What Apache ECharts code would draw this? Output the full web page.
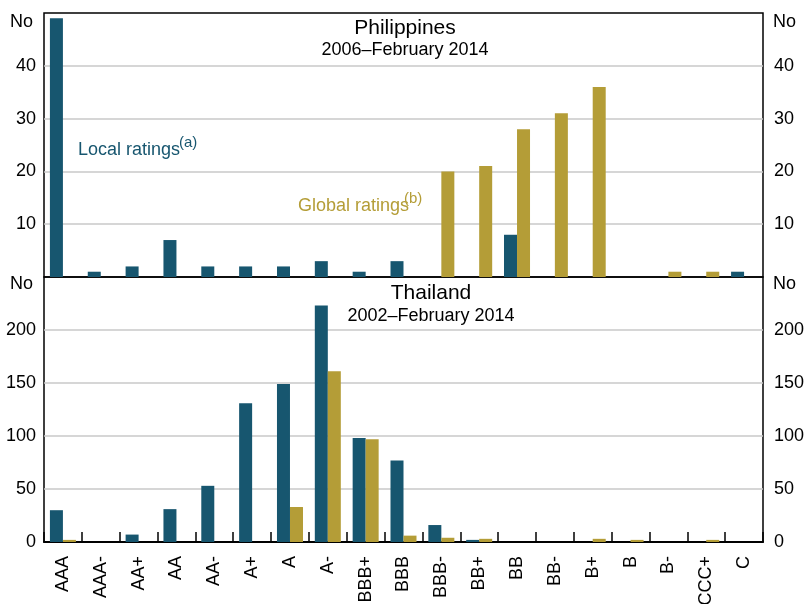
<!DOCTYPE html>
<html>
<head>
<meta charset="utf-8">
<script src="https://cdn.jsdelivr.net/npm/echarts@6/dist/echarts.min.js"></script>
<style>
  html, body { margin: 0; padding: 0; background: #fff; }
  #main { width: 806px; height: 604px; }
</style>
</head>
<body>
<div id="main"></div>
<script>
// rating categories
const categories = ['AAA', 'AAA-', 'AA+', 'AA', 'AA-', 'A+', 'A', 'A-', 'BBB+', 'BBB',
  'BBB-', 'BB+', 'BB', 'BB-', 'B+', 'B', 'B-', 'CCC+', 'C'];

// Philippines, 2006–Feb 2014
const phLocal = [49, 1, 2, 7, 2, 2, 2, 3, 1, 3, 0, 0, 8, 0, 0, 0, 0, 0, 1];
const phGlobal = [0, 0, 0, 0, 0, 0, 0, 0, 0, 0, 20, 21, 28, 31, 36, 0, 1, 1, 0];

// Thailand, 2002–Feb 2014
const thLocal = [30, 0, 7, 31, 53, 131, 149, 223, 98, 77, 16, 2, 0, 0, 0, 0, 0, 0, 0];
const thGlobal = [2, 0, 0, 0, 0, 0, 33, 161, 97, 6, 4, 3, 0, 0, 3, 2, 0, 2, 0];

// axis ranges
const phTicks = [0, 10, 20, 30, 40, 50];
const thTicks = [0, 50, 100, 150, 200, 250];

const LOCAL = '#17566f';
const GLOBAL = '#b49d37';
const FONT = 'Liberation Sans, Arial, sans-serif';

const chart = echarts.init(document.getElementById('main'));

function yAxisFor(grid, ticks, side, hideZero) {
  const max = ticks[ticks.length - 1];
  return {
    type: 'value',
    gridIndex: grid,
    position: side,
    min: ticks[0],
    max: max,
    interval: ticks[1] - ticks[0],
    axisLine: { show: false },
    axisTick: { show: false },
    axisLabel: {
      color: '#000',
      fontSize: 18,
      fontFamily: FONT,
      margin: side === 'left' ? 8 : 11,
      formatter: v => (v === max || (hideZero && v === 0)) ? '' : String(v)
    },
    splitLine: side === 'left'
      ? { show: true, showMinLine: false, showMaxLine: false, lineStyle: { color: '#c8c8c8', width: 1.5 } }
      : { show: false }
  };
}

const option = {
  animation: false,
  backgroundColor: '#fff',
  textStyle: { fontFamily: FONT },
  grid: [
    { left: 44, right: 43, top: 13, height: 264, outerBoundsMode: 'none', show: true, borderColor: '#000', borderWidth: 1.5, backgroundColor: 'transparent' },
    { left: 44, right: 43, top: 277, height: 265, outerBoundsMode: 'none', show: true, borderColor: '#000', borderWidth: 1.5, backgroundColor: 'transparent' }
  ],
  xAxis: [
    {
      type: 'category', gridIndex: 0, data: categories,
      axisLine: { show: false }, axisTick: { show: false }, axisLabel: { show: false }
    },
    {
      type: 'category', gridIndex: 1, data: categories,
      axisLine: { show: true, lineStyle: { color: '#000', width: 2 } },
      axisTick: { show: true, inside: true, length: 10, lineStyle: { color: '#000', width: 1.5 } },
      axisLabel: { interval: 0, rotate: 90, margin: 14, fontSize: 18, color: '#000', fontFamily: FONT }
    }
  ],
  yAxis: [
    yAxisFor(0, phTicks, 'left', true),
    yAxisFor(0, phTicks, 'right', true),
    yAxisFor(1, thTicks, 'left', false),
    yAxisFor(1, thTicks, 'right', false)
  ],
  series: [
    { type: 'bar', xAxisIndex: 0, yAxisIndex: 0, data: phLocal, barWidth: 13, barGap: '0%', itemStyle: { color: LOCAL } },
    { type: 'bar', xAxisIndex: 0, yAxisIndex: 0, data: phGlobal, barWidth: 13, barGap: '0%', itemStyle: { color: GLOBAL } },
    { type: 'bar', xAxisIndex: 1, yAxisIndex: 2, data: thLocal, barWidth: 13, barGap: '0%', itemStyle: { color: LOCAL } },
    { type: 'bar', xAxisIndex: 1, yAxisIndex: 2, data: thGlobal, barWidth: 13, barGap: '0%', itemStyle: { color: GLOBAL } }
  ],
  graphic: [
    // panel titles
    { type: 'text', x: 405, y: 28, style: { text: 'Philippines', fontSize: 21, fontFamily: FONT, fill: '#000', align: 'center', verticalAlign: 'middle' } },
    { type: 'text', x: 405, y: 50, style: { text: '2006–February 2014', fontSize: 18, fontFamily: FONT, fill: '#000', align: 'center', verticalAlign: 'middle' } },
    { type: 'text', x: 431, y: 293, style: { text: 'Thailand', fontSize: 21, fontFamily: FONT, fill: '#000', align: 'center', verticalAlign: 'middle' } },
    { type: 'text', x: 431, y: 316, style: { text: '2002–February 2014', fontSize: 18, fontFamily: FONT, fill: '#000', align: 'center', verticalAlign: 'middle' } },
    // unit labels
    { type: 'text', x: 33, y: 22, style: { text: 'No', fontSize: 18, fontFamily: FONT, fill: '#000', align: 'right', verticalAlign: 'middle' } },
    { type: 'text', x: 773, y: 22, style: { text: 'No', fontSize: 18, fontFamily: FONT, fill: '#000', align: 'left', verticalAlign: 'middle' } },
    { type: 'text', x: 33, y: 284, style: { text: 'No', fontSize: 18, fontFamily: FONT, fill: '#000', align: 'right', verticalAlign: 'middle' } },
    { type: 'text', x: 773, y: 284, style: { text: 'No', fontSize: 18, fontFamily: FONT, fill: '#000', align: 'left', verticalAlign: 'middle' } },
    // series labels
    { type: 'text', x: 78, y: 150, style: { text: 'Local ratings', fontSize: 18, fontFamily: FONT, fill: LOCAL, align: 'left', verticalAlign: 'middle' } },
    { type: 'text', x: 179, y: 143, style: { text: '(a)', fontSize: 15, fontFamily: FONT, fill: LOCAL, align: 'left', verticalAlign: 'middle' } },
    { type: 'text', x: 298, y: 206, style: { text: 'Global ratings', fontSize: 18, fontFamily: FONT, fill: GLOBAL, align: 'left', verticalAlign: 'middle' } },
    { type: 'text', x: 404, y: 199, style: { text: '(b)', fontSize: 15, fontFamily: FONT, fill: GLOBAL, align: 'left', verticalAlign: 'middle' } }
  ]
};

option && chart.setOption(option);
</script>
</body>
</html>
